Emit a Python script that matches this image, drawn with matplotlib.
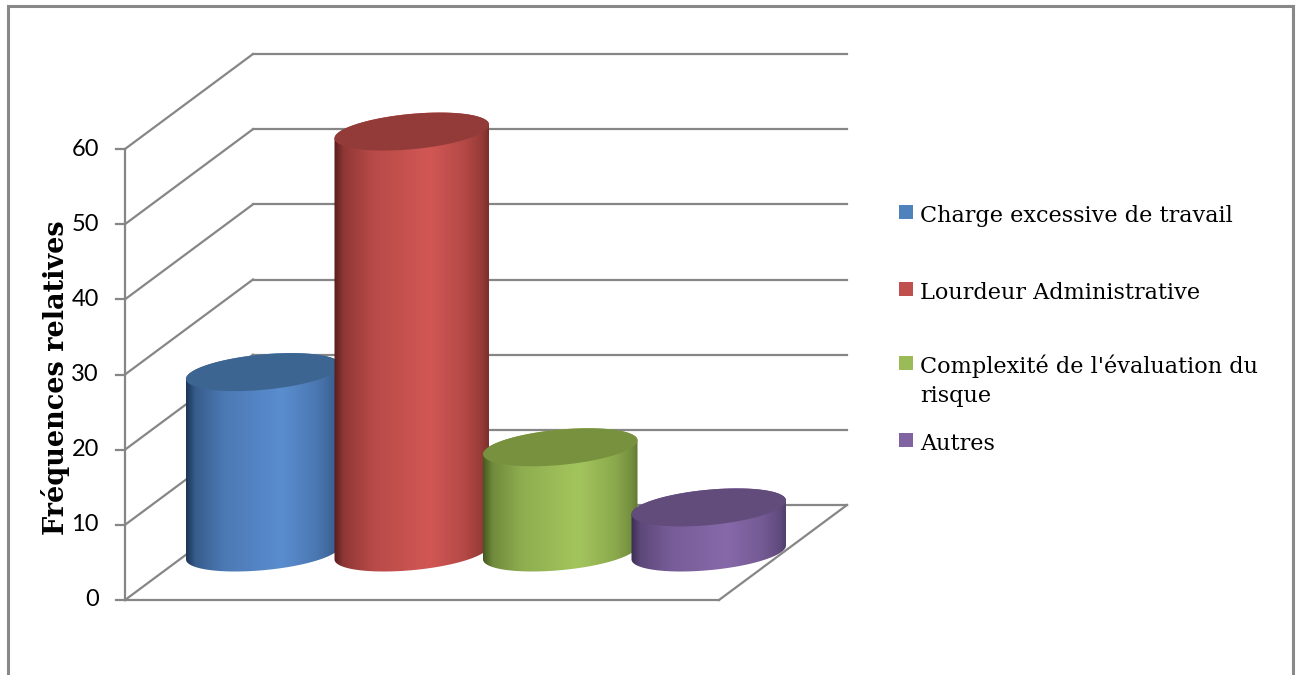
import numpy as np
import matplotlib.pyplot as plt
from matplotlib.patches import Polygon, Rectangle
from matplotlib.colors import to_rgb

categories = ["Charge excessive de travail", "Lourdeur Administrative",
              "Complexité de l'évaluation du\nrisque", "Autres"]
values = [24, 56, 14, 6]
ticks = [0, 10, 20, 30, 40, 50, 60]
ylabel = "Fréquences relatives"

# colours: light face, dark edge, top cap, legend swatch
light = ["#5a8dcf", "#d25754", "#a3c55d", "#8769aa"]
dark = ["#1c3556", "#571d1c", "#45591f", "#3b2e52"]
tops = ["#3d6592", "#933b39", "#77913f", "#614c7c"]
swatch = ["#4f81bd", "#c0504d", "#9bbb59", "#8064a2"]

W, H = 1301, 675
fig = plt.figure(figsize=(W / 100, H / 100), dpi=100)
ax = fig.add_axes([0, 0, 1, 1])

# pixel scale of the front plane: x 125..719 for 4 categories, y 600..149 for 0..60
SX = (719 - 125) / 4
SY = (600 - 149) / 60
ax.set_xlim(-125 / SX, (W - 125) / SX)
ax.set_ylim(-(H - 600) / SY, 600 / SY)
ax.set_axis_off()

# depth offset of the oblique view
DX = 128 / SX
DY = 95 / SY
grid = "#868686"
n = len(categories)

# walls and floor
ax.plot([0, 0], [0, ticks[-1]], color=grid, lw=1.6, zorder=1)
for v in ticks:
    ax.plot([-9 / SX, 0], [v, v], color=grid, lw=1.6, zorder=1)
    ax.plot([0, DX], [v, v + DY], color=grid, lw=1.6, zorder=1)
    ax.plot([DX, n + DX], [v + DY, v + DY], color=grid, lw=1.6, zorder=1)
    ax.text(-26 / SX, v, str(v), ha="right", va="center", fontsize=17,
            family="Lato", color="black")
ax.plot([0, n], [0, 0], color=grid, lw=1.6, zorder=1)
ax.plot([n, n + DX], [0, DY], color=grid, lw=1.6, zorder=1)

# cylinders (ellipse in px: x = A cos t + B sin t, y = C sin t)
A, B, C = 72.0, 28.0, 19.0
tR = np.arctan2(B, A)
hw = np.hypot(A, B) / SX


def ell(t, cx, cy):
    return cx + (A * np.cos(t) + B * np.sin(t)) / SX, cy + C * np.sin(t) / SY


u = np.linspace(0, 1, 300)
prof = np.interp(u, [0, 0.06, 0.25, 0.62, 0.85, 0.96, 1.0],
                 [0.0, 0.45, 0.78, 1.0, 0.75, 0.5, 0.3])

for i, v in enumerate(values):
    cx = i + 0.5 + DX / 2
    base = DY / 2
    top = v + DY / 2
    t1 = np.linspace(tR - np.pi, tR, 80)
    t2 = np.linspace(tR, tR + np.pi, 80)
    x1, y1 = ell(t1, cx, base)
    x2, y2 = ell(t2, cx, top)
    body = Polygon(np.column_stack([np.r_[x1, x2], np.r_[y1, y2]]),
                   closed=True, facecolor="none", edgecolor="none",
                   zorder=10 + 2 * i)
    ax.add_patch(body)
    d = np.array(to_rgb(dark[i]))
    l = np.array(to_rgb(light[i]))
    img = d[None, :] + (l - d)[None, :] * prof[:, None]
    img = np.repeat(img[None, :, :], 2, axis=0)
    im = ax.imshow(img, extent=[cx - hw, cx + hw, base - 3 * C / SY, top + 3 * C / SY],
                   origin="lower", aspect="auto", interpolation="bilinear",
                   zorder=10 + 2 * i)
    im.set_clip_path(body)
    tt = np.linspace(0, 2 * np.pi, 200)
    xc, yc = ell(tt, cx, top)
    ax.add_patch(Polygon(np.column_stack([xc, yc]), closed=True,
                         facecolor=tops[i], edgecolor="none", zorder=11 + 2 * i))

ax.set_xlim(-125 / SX, (W - 125) / SX)
ax.set_ylim(-(H - 600) / SY, 600 / SY)

# y axis title
fig.text(55 / W, 1 - 378 / H, ylabel, rotation=90, ha="center", va="center",
         fontsize=19.5, fontweight="bold", family="DejaVu Serif")

# legend
rows = [212, 289, 363, 440]
for i, lab in enumerate(categories):
    yc = rows[i]
    fig.patches.append(Rectangle((899 / W, 1 - (yc + 7) / H), 14 / W, 14 / H,
                                 transform=fig.transFigure, facecolor=swatch[i],
                                 edgecolor="none", figure=fig))
    for k, line in enumerate(lab.split("\n")):
        fig.text(920 / W, 1 - (yc + 10 + 29 * k) / H, line, ha="left",
                 va="baseline", fontsize=16.1, family="DejaVu Serif")

# outer chart border
fig.patches.append(Rectangle((8 / W, -0.05), (1293 - 8) / W, 1 - 6 / H + 0.05,
                             transform=fig.transFigure, facecolor="none",
                             edgecolor="#888888", lw=2.2, figure=fig))

fig.savefig("out.png", dpi=100)
